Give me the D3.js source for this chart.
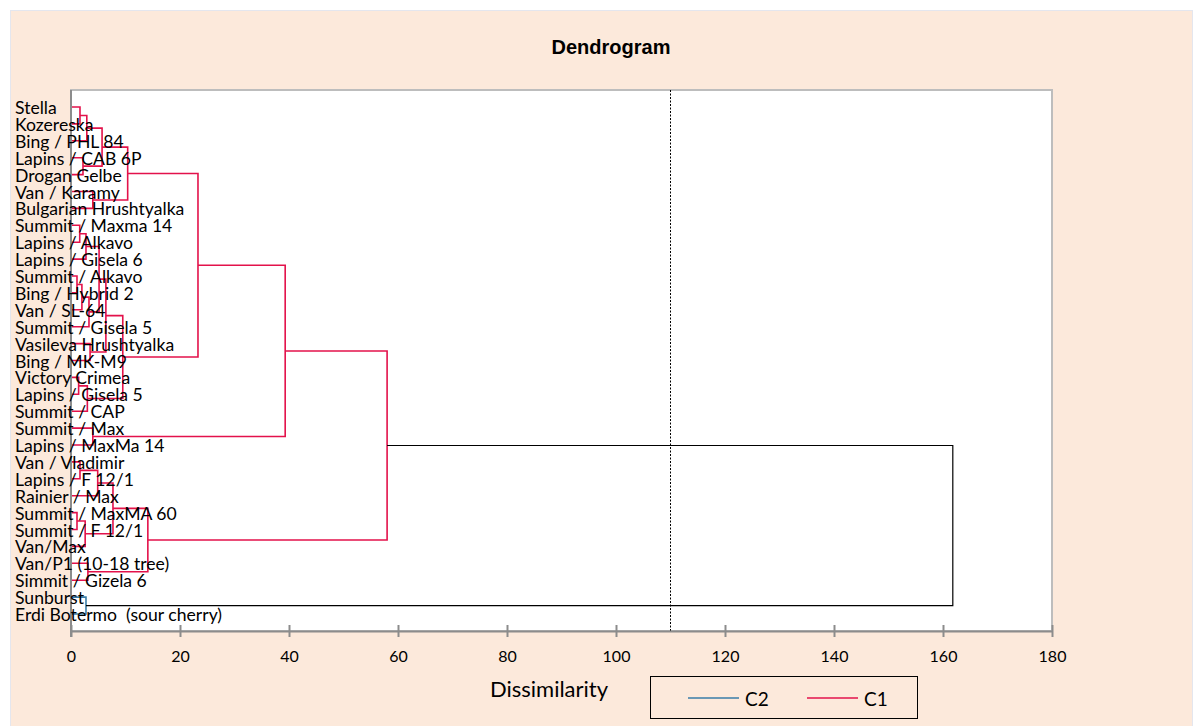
<!DOCTYPE html>
<html>
<head>
<meta charset="utf-8">
<script src="https://cdn.jsdelivr.net/npm/d3@7/dist/d3.min.js"></script>
<style>
  html, body { margin: 0; padding: 0; background: #ffffff; }
  svg { display: block; }
  .leaf { white-space: pre; }
</style>
</head>
<body>
<svg id="chart" width="1202" height="726"></svg>
<script>
// ---------------- DATA ----------------
const leaves = [
  "Stella", "Kozereska", "Bing / PHL 84", "Lapins / CAB 6P", "Drogan Gelbe",
  "Van / Karamy", "Bulgarian Hrushtyalka", "Summit / Maxma 14", "Lapins / Alkavo",
  "Lapins / Gisela 6", "Summit / Alkavo", "Bing / Hybrid 2", "Van / SL-64",
  "Summit / Gisela 5", "Vasileva Hrushtyalka", "Bing / MK-M9", "Victory Crimea",
  "Lapins / Gisela 5", "Summit / CAP", "Summit / Max", "Lapins / MaxMa 14",
  "Van / Vladimir", "Lapins / F 12/1", "Rainier / Max", "Summit / MaxMA 60",
  "Summit / F 12/1", "Van/Max", "Van/P1 (10-18 tree)", "Simmit / Gizela 6",
  "Sunburst", "Erdi Botermo  (sour cherry)"
];
const leafClass = [
  "C1","C1","C1","C1","C1","C1","C1","C1","C1","C1","C1","C1","C1","C1","C1",
  "C1","C1","C1","C1","C1","C1","C1","C1","C1","C1","C1","C1","C1","C1",
  "C2","C2"
];
// linkage: [childA, childB, dissimilarity]; ids < 31 are leaves, merge k gets id 31+k
const merges = [
  [0, 1, 1.65],    // 31
  [31, 2, 2.9],    // 32
  [3, 4, 2.2],     // 33
  [32, 33, 5.7],   // 34
  [5, 6, 4.0],     // 35
  [34, 35, 10.4],  // 36
  [7, 8, 1.6],     // 37
  [37, 9, 2.75],   // 38
  [10, 11, 1.1],   // 39
  [39, 12, 2.0],   // 40
  [40, 13, 3.3],   // 41
  [38, 41, 5.15],  // 42
  [14, 15, 3.5],   // 43
  [42, 43, 6.4],   // 44
  [16, 17, 1.4],   // 45
  [45, 18, 3.0],   // 46
  [44, 46, 9.5],   // 47
  [36, 47, 23.3],  // 48
  [19, 20, 4.0],   // 49
  [48, 49, 39.3],  // 50
  [21, 22, 1.65],  // 51
  [51, 23, 4.9],   // 52
  [24, 25, 1.1],   // 53
  [53, 26, 2.6],   // 54
  [52, 54, 7.7],   // 55
  [27, 28, 3.1],   // 56
  [55, 56, 14.1],  // 57
  [50, 57, 58.0],  // 58
  [29, 30, 2.75],  // 59
  [58, 59, 161.8]  // 60
];
const truncation = 110;
const xTicks = [0, 20, 40, 60, 80, 100, 120, 140, 160, 180];
const classes = ["C2", "C1"];
const classColor = { C1: "#E3124B", C2: "#3A7DA8", root: "#000000" };

// ---------------- LAYOUT ----------------
const svg = d3.select("#chart");
const W = 1202, H = 726;
const plot = { left: 71, top: 90, right: 1052, bottom: 631 };

svg.append("rect").attr("x", 0).attr("y", 0).attr("width", W).attr("height", H).attr("fill", "#ffffff");
svg.append("rect").attr("x", 10.5).attr("y", 10.5).attr("width", 1182).attr("height", 730)
  .attr("fill", "#FCE9DB").attr("stroke", "#E4E6EE").attr("stroke-width", 1);

svg.append("rect").attr("x", plot.left).attr("y", plot.top)
  .attr("width", plot.right - plot.left).attr("height", plot.bottom - plot.top)
  .attr("fill", "#ffffff").attr("stroke", "#BDBDBD").attr("stroke-width", 2);

const x = d3.scaleLinear().domain([0, 180]).range([plot.left, plot.right]);
const y = d3.scalePoint().domain(d3.range(leaves.length)).range([107, 614]);

// build nodes
const nodes = leaves.map((name, i) => ({ id: i, h: 0, y: y(i), cls: leafClass[i] }));
merges.forEach(([a, b, h], k) => {
  const A = nodes[a], B = nodes[b];
  nodes.push({ id: leaves.length + k, a: A, b: B, h: h, y: (A.y + B.y) / 2,
               cls: A.cls === B.cls ? A.cls : "root" });
});

// title
svg.append("text").attr("x", 611).attr("y", 54).attr("text-anchor", "middle")
  .attr("font-family", "Liberation Sans, Arial, sans-serif").attr("font-weight", "bold")
  .attr("font-size", 20).attr("fill", "#000").text("Dendrogram");

// truncation line
svg.append("line").attr("x1", x(truncation)).attr("x2", x(truncation))
  .attr("y1", plot.top).attr("y2", plot.bottom)
  .attr("stroke", "#000").attr("stroke-width", 1).attr("stroke-dasharray", "2,1.5");

// links
const linkG = svg.append("g").attr("fill", "none");
nodes.filter(n => n.a).forEach(n => {
  const p = d3.path();
  p.moveTo(x(n.a.h), n.a.y);
  p.lineTo(x(n.h), n.a.y);
  p.lineTo(x(n.h), n.b.y);
  p.lineTo(x(n.b.h), n.b.y);
  linkG.append("path").attr("d", p.toString())
    .attr("stroke", classColor[n.cls])
    .attr("stroke-width", n.cls === "root" ? 1.2 : 1.6);
});

// x axis
const axis = d3.axisBottom(x).tickValues(xTicks).tickSize(0).tickPadding(0);
const ag = svg.append("g").attr("transform", `translate(0,${plot.bottom})`).call(axis);
ag.select(".domain").attr("stroke", "#8C8C8C").attr("stroke-width", 2);
ag.selectAll(".tick line").remove();
ag.selectAll(".tick").append("line").attr("y1", -6).attr("y2", 6)
  .attr("stroke", "#8C8C8C").attr("stroke-width", 2);
ag.selectAll(".tick text").attr("y", 31).attr("dy", null)
  .attr("font-family", "Lato, sans-serif").attr("font-size", 16).attr("fill", "#000");

// left axis line
svg.append("line").attr("x1", plot.left).attr("x2", plot.left)
  .attr("y1", plot.top).attr("y2", plot.bottom + 6)
  .attr("stroke", "#8C8C8C").attr("stroke-width", 2);

// leaf labels
svg.append("g").selectAll("text").data(nodes.slice(0, leaves.length)).join("text")
  .attr("class", "leaf")
  .attr("x", 15).attr("y", d => d.y + 7)
  .attr("font-family", "Lato, sans-serif").attr("font-size", 17.6).attr("fill", "#000")
  .text(d => leaves[d.id]);

// axis title
svg.append("text").attr("x", 549).attr("y", 697).attr("text-anchor", "middle")
  .attr("font-family", "Lato, sans-serif").attr("font-size", 22).attr("fill", "#000")
  .text("Dissimilarity");

// legend
const lg = svg.append("g");
lg.append("rect").attr("x", 650.5).attr("y", 676.5).attr("width", 267).attr("height", 42)
  .attr("fill", "none").attr("stroke", "#000").attr("stroke-width", 1);
const legendX = { C2: 688, C1: 807 };
classes.forEach(c => {
  lg.append("line").attr("x1", legendX[c]).attr("x2", legendX[c] + 51)
    .attr("y1", 698).attr("y2", 698).attr("stroke", classColor[c]).attr("stroke-width", 1.6);
  lg.append("text").attr("x", legendX[c] + 57).attr("y", 705.5)
    .attr("font-family", "Lato, sans-serif").attr("font-size", 19).attr("fill", "#000").text(c);
});
</script>
</body>
</html>
